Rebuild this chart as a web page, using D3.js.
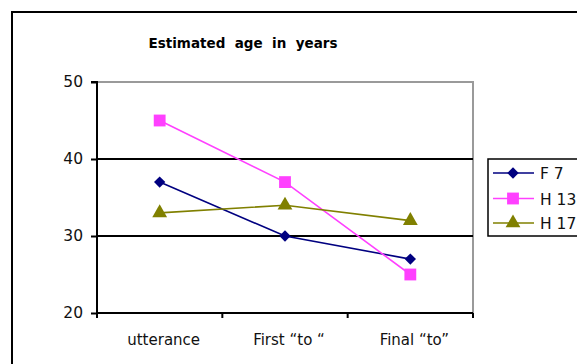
<!DOCTYPE html>
<html>
<head>
<meta charset="utf-8">
<script src="https://cdn.jsdelivr.net/npm/d3@7"></script>
<style>
  html, body { margin: 0; padding: 0; background: #fff; }
  svg { display: block; font-family: "DejaVu Sans", Verdana, sans-serif; }
</style>
</head>
<body>
<svg id="chart" width="577" height="364"></svg>
<script>
// Categories along the x axis
const categories = ["utterance", "First \u201cto \u201c", "Final \u201cto\u201d"];
// Estimated age per speaker
const seriesNames = ["F 7", "H 13", "H 17"];
const f7 = [37, 30, 27];
const h13 = [45, 37, 25];
const h17 = [33, 34, 32];
const yTicks = [20, 30, 40, 50];
const title = "Estimated  age  in  years";

const colors = ["#000080", "#ff40ff", "#808000"];
// Diamond drawn as a square turned 45 degrees
const shapes = [d3.symbolSquare, d3.symbolSquare, d3.symbolTriangle];
const sizes = [64, 140, 95];
const rotations = [45, 0, 0];
const series = [f7, h13, h17].map((values, i) => ({
  name: seriesNames[i], values, color: colors[i], shape: shapes[i], size: sizes[i], rot: rotations[i]
}));

const svg = d3.select("#chart");

// Outer chart frame (extends past the window edge)
svg.append("path")
  .attr("d", "M12,370 L12,12 L590,12")
  .attr("fill", "none").attr("stroke", "#000").attr("stroke-width", 2);

// Title
svg.append("text")
  .attr("x", 243).attr("y", 48)
  .attr("text-anchor", "middle")
  .attr("font-size", 13.5).attr("font-weight", "bold")
  .attr("xml:space", "preserve")
  .style("white-space", "pre")
  .text(title);

const plot = { left: 97, right: 473, top: 82, bottom: 313 };

const x = d3.scaleBand().domain(categories).range([plot.left, plot.right]);
const y = d3.scaleLinear().domain([20, 50]).range([plot.bottom, plot.top]);

// Plot area frame: grey top/right edges
svg.append("path")
  .attr("d", `M${plot.left},${plot.top} L${plot.right},${plot.top} L${plot.right},${plot.bottom}`)
  .attr("fill", "none").attr("stroke", "#9a9a9a").attr("stroke-width", 2);

// Horizontal gridlines
svg.append("g").selectAll("line")
  .data(yTicks.filter(t => t > 20 && t < 50))
  .join("line")
  .attr("x1", plot.left).attr("x2", plot.right)
  .attr("y1", d => y(d)).attr("y2", d => y(d))
  .attr("stroke", "#000").attr("stroke-width", 2);

// Y axis
const yAxis = svg.append("g")
  .attr("transform", `translate(${plot.left},0)`)
  .call(d3.axisLeft(y).tickValues(yTicks).tickSize(6).tickPadding(8));
yAxis.select(".domain").attr("stroke-width", 2).attr("d", `M-6,${plot.top}H0V${plot.bottom}`);
yAxis.selectAll(".tick line").attr("stroke-width", 2);
yAxis.selectAll("text").attr("font-size", 15.5).attr("fill", "#111").attr("font-family", "DejaVu Sans, sans-serif");

// X axis: ticks at band boundaries
const xAxis = svg.append("g")
  .attr("transform", `translate(0,${plot.bottom})`);
xAxis.append("line")
  .attr("x1", plot.left).attr("x2", plot.right)
  .attr("stroke", "#000").attr("stroke-width", 2);
const boundaries = categories.map(c => x(c)).concat([x(categories[categories.length - 1]) + x.bandwidth()]);
xAxis.selectAll("line.tk").data(boundaries).join("line")
  .attr("class", "tk")
  .attr("x1", d => d).attr("x2", d => d)
  .attr("y1", 0).attr("y2", 5)
  .attr("stroke", "#000").attr("stroke-width", 2);
xAxis.selectAll("text").data(categories).join("text")
  .attr("x", d => x(d) + x.bandwidth() / 2 + 4)
  .attr("y", 32)
  .attr("text-anchor", "middle")
  .attr("font-size", 15).attr("fill", "#111")
  .text(d => d);

// Lines and markers
const line = d3.line()
  .x((d, i) => x(categories[i]) + x.bandwidth() / 2)
  .y(d => y(d));

series.forEach(s => {
  svg.append("path")
    .attr("d", line(s.values))
    .attr("fill", "none").attr("stroke", s.color).attr("stroke-width", 1.6);
  svg.append("g").selectAll("path")
    .data(s.values).join("path")
    .attr("transform", (d, i) => `translate(${x(categories[i]) + x.bandwidth() / 2},${y(d)}) rotate(${s.rot})`)
    .attr("d", d3.symbol().type(s.shape).size(s.size))
    .attr("fill", s.color);
});

// Legend
const legend = svg.append("g");
legend.append("rect")
  .attr("x", 488).attr("y", 159).attr("width", 110).attr("height", 77)
  .attr("fill", "#fff").attr("stroke", "#000").attr("stroke-width", 1.5);
const rowY = [173, 198.5, 223];
series.forEach((s, i) => {
  const g = legend.append("g").attr("transform", `translate(0,${rowY[i]})`);
  g.append("line").attr("x1", 493).attr("x2", 534).attr("stroke", s.color).attr("stroke-width", 1.6);
  g.append("path").attr("transform", `translate(513,0) rotate(${s.rot})`)
    .attr("d", d3.symbol().type(s.shape).size(s.size)).attr("fill", s.color);
  g.append("text").attr("x", 540).attr("y", 6)
    .attr("font-size", 15.5).attr("fill", "#111").text(s.name);
});
</script>
</body>
</html>
